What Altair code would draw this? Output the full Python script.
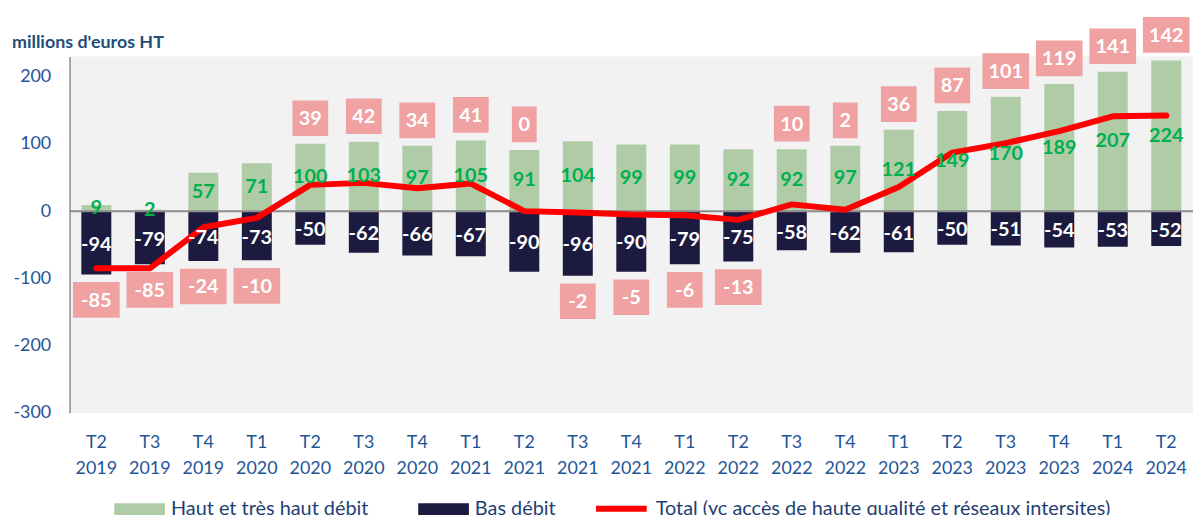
import altair as alt
import pandas as pd

quarters = ["T2", "T3", "T4", "T1", "T2", "T3", "T4", "T1", "T2", "T3", "T4",
            "T1", "T2", "T3", "T4", "T1", "T2", "T3", "T4", "T1", "T2"]
years = ["2019", "2019", "2019", "2020", "2020", "2020", "2020", "2021", "2021", "2021", "2021",
         "2022", "2022", "2022", "2022", "2023", "2023", "2023", "2023", "2024", "2024"]
haut_debit = [9, 2, 57, 71, 100, 103, 97, 105, 91, 104, 99, 99, 92, 92, 97, 121, 149, 170, 189, 207, 224]
bas_debit = [-94, -79, -74, -73, -50, -62, -66, -67, -90, -96, -90, -79, -75, -58, -62, -61, -50, -51, -54, -53, -52]
total = [-85, -85, -24, -10, 39, 42, 34, 41, 0, -2, -5, -6, -13, 10, 2, 36, 87, 101, 119, 141, 142]

S_HD = "Haut et très haut débit"
S_BD = "Bas débit"
S_TOT = "Total (yc accès de haute qualité et réseaux intersites)"
UNIT = "millions d'euros HT"

GREEN = "#afcca7"
NAVY = "#1c1a3f"
RED = "#ff0000"
PINK = "#f0a2a2"
GREEN_TXT = "#00b050"
BLUE = "#1f5597"
FONT = "Lato"

periods = [f"{q} {y}" for q, y in zip(quarters, years)]
df = pd.DataFrame({"period": periods, "haut": haut_debit, "bas": bas_debit, "total": total})

x = alt.X("period:N", sort=periods, title=None,
          scale=alt.Scale(paddingInner=0.44, paddingOuter=0.22),
          axis=alt.Axis(labelExpr="split(datum.label, ' ')", labelAngle=0, domain=False, ticks=False,
                        labelPadding=21, labelLineHeight=26, labelFont=FONT, labelFontSize=18,
                        labelColor=BLUE))
yscale = alt.Scale(domain=[-300, 230], nice=False, zero=False)
yaxis = alt.Axis(values=[-300, -200, -100, 0, 100, 200], grid=False, ticks=False,
                 labelExpr="toString(datum.value)",
                 domainColor="#8c8c8c", domainWidth=1.5, labelPadding=19, labelFont=FONT,
                 labelFontSize=18, labelColor=BLUE, title=None)

fill_scale = alt.Scale(domain=[S_HD, S_BD], range=[GREEN, NAVY])
stroke_scale = alt.Scale(domain=[S_TOT], range=[RED])
bar_legend = alt.Legend(
    title=None, orient="none", legendX=45, legendY=430, direction="horizontal",
    symbolType="M-1,-0.235H1V0.235H-1Z", symbolSize=2601, symbolStrokeWidth=0,
    labelFont=FONT, labelFontSize=20, labelColor="#1f3f73", labelOffset=6, columnPadding=50,
    labelLimit=0)
line_legend = alt.Legend(
    title=None, orient="none", legendX=527, legendY=427, direction="horizontal",
    symbolType="stroke", symbolSize=2601, symbolStrokeWidth=6,
    labelFont=FONT, labelFontSize=20, labelColor="#1f3f73", labelOffset=6, labelLimit=0)

base = alt.Chart(df)

green_bars = base.transform_calculate(serie=f"'{S_HD}'").mark_bar().encode(
    x=x, y=alt.Y("haut:Q", scale=yscale, axis=yaxis),
    fill=alt.Fill("serie:N", scale=fill_scale, legend=bar_legend))
navy_bars = base.transform_calculate(serie=f"'{S_BD}'").mark_bar().encode(
    x=x, y=alt.Y("bas:Q", scale=yscale),
    fill=alt.Fill("serie:N", scale=fill_scale, legend=bar_legend))
zero = alt.Chart(pd.DataFrame({"z": [0]})).mark_rule(color="#8c8c8c", strokeWidth=2).encode(
    y=alt.Y("z:Q", scale=yscale))
line = base.transform_calculate(serie=f"'{S_TOT}'").mark_line(
    strokeWidth=6, strokeCap="round", strokeJoin="round").encode(
    x=x, y=alt.Y("total:Q", scale=yscale),
    stroke=alt.Stroke("serie:N", scale=stroke_scale, legend=line_legend))

boxes_base = base.transform_calculate(
    center="datum.total >= 0 ? datum.haut + 38 : datum.bas - 38",
    y1="datum.center - 26.5", y2="datum.center + 26.5",
    lbl="toString(datum.total)",
    boxw="14 + 11 * length(toString(datum.total))",
)
boxes = boxes_base.mark_bar(color=PINK).encode(
    x=x, y=alt.Y("y1:Q", scale=yscale), y2="y2:Q", size=alt.Size("boxw:Q", scale=None))
box_text = boxes_base.mark_text(color="white", font=FONT, fontWeight="bold", fontSize=20,
                                baseline="middle", dy=1).encode(
    x=x, y=alt.Y("center:Q", scale=yscale), text="lbl:N")

green_text = base.transform_calculate(mid="datum.haut / 2", lbl="toString(datum.haut)").mark_text(
    color=GREEN_TXT, font=FONT, fontWeight="bold", fontSize=20, baseline="middle").encode(
    x=x, y=alt.Y("mid:Q", scale=yscale), text="lbl:N")
navy_text = base.transform_calculate(mid="datum.bas / 2", lbl="toString(datum.bas)").mark_text(
    color="white", font=FONT, fontWeight="bold", fontSize=20, baseline="middle", dy=2).encode(
    x=x, y=alt.Y("mid:Q", scale=yscale), text="lbl:N")

unit_text = alt.Chart(pd.DataFrame({"t": [UNIT]})).mark_text(
    align="left", baseline="middle", font=FONT, fontSize=18, fontWeight="bold", color="#1f4e79").encode(
    x=alt.value(-58), y=alt.value(-13), text="t:N")

chart = alt.layer(green_bars, navy_bars, zero, line, boxes, box_text, green_text, navy_text,
                  unit_text).properties(
    width=1131, height=359,
    autosize=alt.AutoSizeParams(type="none"),
    padding={"left": 62, "top": 47, "right": 0, "bottom": 101},
).configure_view(fill="#f2f2f2", stroke=None)

chart.save("out.html", embed_options={"renderer": "svg", "actions": False})
